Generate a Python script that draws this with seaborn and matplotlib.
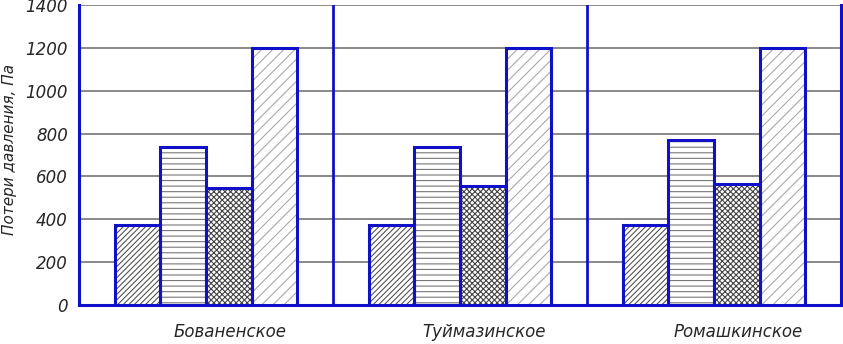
import pandas as pd
import seaborn as sns
import matplotlib.pyplot as plt
from matplotlib.patches import Rectangle
import matplotlib.transforms as mtransforms

# месторождения и потери давления по четырём вариантам
fields = ['Бованенское', 'Туймазинское', 'Ромашкинское']
variants = ['v1', 'v2', 'v3', 'v4']
loss_v1 = [372, 372, 372]
loss_v2 = [737, 737, 768]
loss_v3 = [546, 556, 566]
loss_v4 = [1200, 1200, 1200]
hatches = ['//////', '---', 'xxxxxx', '///']
hatch_colors = ['#555555', '#777777', '#444444', '#aaaaaa']

def build_frame():
    rows = []
    for v, vals in zip(variants, [loss_v1, loss_v2, loss_v3, loss_v4]):
        for f, val in zip(fields, vals):
            rows.append({'field': f, 'variant': v, 'loss': val})
    return pd.DataFrame(rows)

def plot_losses(df, save_path):
    sns.set_style('white')
    plt.rcParams['font.family'] = ['DejaVu Sans']
    plt.rcParams['hatch.linewidth'] = 0.8

    fig = plt.figure(figsize=(8.43, 3.44), dpi=100)
    ax = fig.add_axes([79 / 843, 39 / 344, 762 / 843, 300 / 344])

    sns.barplot(data=df, x='field', y='loss', hue='variant', order=fields,
                hue_order=variants, palette=['white'] * 4, width=0.72,
                linewidth=0, legend=False, ax=ax, zorder=3)

    blue = '#1010c8'
    n = len(fields)
    for i, patch in enumerate(ax.patches[:n * len(variants)]):
        k = i // n
        patch.set_hatch(hatches[k])
        patch.set_edgecolor(hatch_colors[k])
        ax.add_patch(Rectangle(patch.get_xy(), patch.get_width(), patch.get_height(),
                               fill=False, edgecolor=blue, linewidth=2.2, zorder=4))

    ax.set_xlim(-0.5, n - 0.5)
    ax.set_ylim(0, 1400)
    ax.set_yticks(range(0, 1401, 200))
    ax.yaxis.grid(True, color='#808080', linewidth=1.3, zorder=0)
    ax.set_axisbelow(True)
    for x in [0.5, 1.5]:
        ax.axvline(x, color=blue, linewidth=2, zorder=5)

    for side in ['left', 'bottom', 'right']:
        ax.spines[side].set_color(blue)
        ax.spines[side].set_linewidth(2.2)
    ax.spines['top'].set_visible(False)

    ax.tick_params(length=0, labelsize=12, pad=8)
    for lbl in ax.get_yticklabels():
        lbl.set_fontstyle('italic')
    ax.set_xlabel('')
    ax.set_ylabel('Потери давления, Па', fontsize=11, style='italic')
    ax.yaxis.label.set_va('center')
    ax.yaxis.set_label_coords(-0.091, 0.52)

    offset = mtransforms.ScaledTranslation(0.24, -0.07, fig.dpi_scale_trans)
    for lbl in ax.get_xticklabels():
        lbl.set_fontstyle('italic')
        lbl.set_fontsize(12)
        lbl.set_transform(lbl.get_transform() + offset)

    plt.savefig(save_path, dpi=100)
    plt.close()

if __name__ == '__main__':
    plot_losses(build_frame(), 'out.png')
